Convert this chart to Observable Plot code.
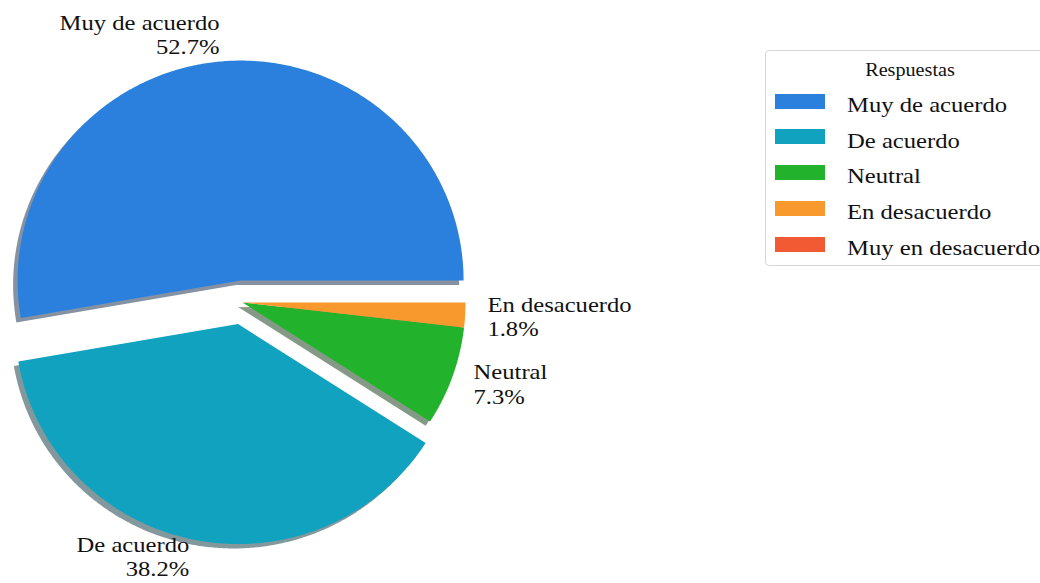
<!DOCTYPE html>
<html>
<head>
<meta charset="utf-8">
<script src="https://cdn.jsdelivr.net/npm/d3@7"></script>
<script src="https://cdn.jsdelivr.net/npm/@observablehq/plot@0.6"></script>
<style>
  html, body { margin: 0; padding: 0; background: #fff; }
  #wrap { position: relative; width: 1040px; height: 583px; overflow: hidden; background: #fff; }
  #wrap svg { position: absolute; left: 0; top: 0; }
  .lg-box { position: absolute; left: 765px; top: 50px; width: 290px; height: 216px; border: 1px solid #d6d6d6; border-radius: 4px; background: rgba(255,255,255,0.8); box-sizing: border-box; }
  .lg-title, .lg-text { position: absolute; font-family: "Liberation Serif", "Times New Roman", serif; color: #111; white-space: nowrap; line-height: 1; }
  .lg-title { font-size: 18px; transform: translateX(-50%) scaleX(1.12); transform-origin: center center; }
  .lg-text { font-size: 22px; transform: scaleX(1.12); transform-origin: left center; }
  .lg-swatch { position: absolute; width: 50px; height: 15px; }
</style>
</head>
<body>
<div id="wrap"></div>
<script>
// ---- data ----
const categories = ["Muy de acuerdo", "De acuerdo", "Neutral", "En desacuerdo", "Muy en desacuerdo"];
const counts = [29, 21, 4, 1, 0];
const explodeBy = [0.1, 0.1, 0, 0, 0];
const legendTitle = "Respuestas";
const colors = ["#2b80de", "#10a2bf", "#22b22b", "#f8992e", "#f15a32"];

// ---- layout ----
const W = 1040, H = 583;
const CX = 242, CY = 302, RX = 223, RY = 220;
const STRETCH = 1.12;

const total = d3.sum(counts);
const pct = counts.map(c => 100 * c / total);

const wedges = [];
let acc = 0;
categories.forEach((cat, i) => {
  const frac = counts[i] / total;
  const t1 = acc * 360, t2 = (acc + frac) * 360;
  acc += frac;
  if (frac === 0) return;
  const tm = (t1 + t2) / 2 * Math.PI / 180;
  const ox = explodeBy[i] * Math.cos(tm), oy = explodeBy[i] * Math.sin(tm);
  const pts = [{cat, x: ox, y: oy}];
  const n = Math.max(2, Math.ceil((t2 - t1) / 0.5));
  for (let k = 0; k <= n; k++) {
    const th = (t1 + (t2 - t1) * k / n) * Math.PI / 180;
    pts.push({cat, x: ox + Math.cos(th), y: oy + Math.sin(th)});
  }
  pts.push({cat, x: ox, y: oy});
  const lx = ox + 1.1 * Math.cos(tm), ly = oy + 1.1 * Math.sin(tm);
  wedges.push({cat, i, pts, lx, ly, label: `${cat}\n${pct[i].toFixed(1)}%`});
});

const allPts = wedges.flatMap(w => w.pts);
const shadowColor = i => {
  const c = d3.rgb(colors[i]);
  return d3.rgb(c.r * 0.3, c.g * 0.3, c.b * 0.3).formatHex();
};

const textOpts = {
  x: "lx", y: "ly", text: "label",
  fontFamily: "Liberation Serif", fontSize: 22, lineHeight: 1.1, fill: "#111"
};

const chart = Plot.plot({
  width: W, height: H, margin: 0,
  style: {background: "transparent", overflow: "visible"},
  x: {domain: [-CX / RX, (W - CX) / RX], range: [0, W], axis: null},
  y: {domain: [(CY - H) / RY, CY / RY], range: [H, 0], axis: null},
  color: {domain: categories, range: colors},
  marks: [
    ...wedges.map(w => Plot.line(w.pts, {
      x: d => d.x - 0.02, y: d => d.y - 0.02,
      fill: shadowColor(w.i), fillOpacity: 0.5, stroke: "none"
    })),
    Plot.line(allPts, {x: "x", y: "y", z: "cat", fill: "cat", stroke: "none"}),
    Plot.text(wedges.filter(w => w.lx > 0), {...textOpts, textAnchor: "start"}),
    Plot.text(wedges.filter(w => w.lx <= 0), {...textOpts, textAnchor: "end", dy: -5})
  ]
});

const wrap = document.getElementById("wrap");
wrap.appendChild(chart);

// horizontal stretch of text (the reference is drawn with slightly wide glyphs)
chart.querySelectorAll("text").forEach(t => {
  const x = +(t.getAttribute("x") || 0);
  const tr = t.getAttribute("transform") || "";
  t.setAttribute("transform", `${tr} translate(${x},0) scale(${STRETCH},1) translate(${-x},0)`.trim());
});

// ---- legend ----
const box = document.createElement("div");
box.className = "lg-box";
wrap.appendChild(box);
const title = document.createElement("div");
title.className = "lg-title";
title.textContent = legendTitle;
title.style.left = "910px";
title.style.top = "61px";
wrap.appendChild(title);
const row0 = 101, rowStep = 35.9;
categories.forEach((cat, i) => {
  const cy = row0 + i * rowStep;
  const sw = document.createElement("div");
  sw.className = "lg-swatch";
  sw.style.left = "775px";
  sw.style.top = (cy - 7.5) + "px";
  sw.style.background = colors[i];
  wrap.appendChild(sw);
  const tx = document.createElement("div");
  tx.className = "lg-text";
  tx.textContent = cat;
  tx.style.left = "847px";
  tx.style.top = (cy - 7.4) + "px";
  wrap.appendChild(tx);
});
</script>
</body>
</html>
